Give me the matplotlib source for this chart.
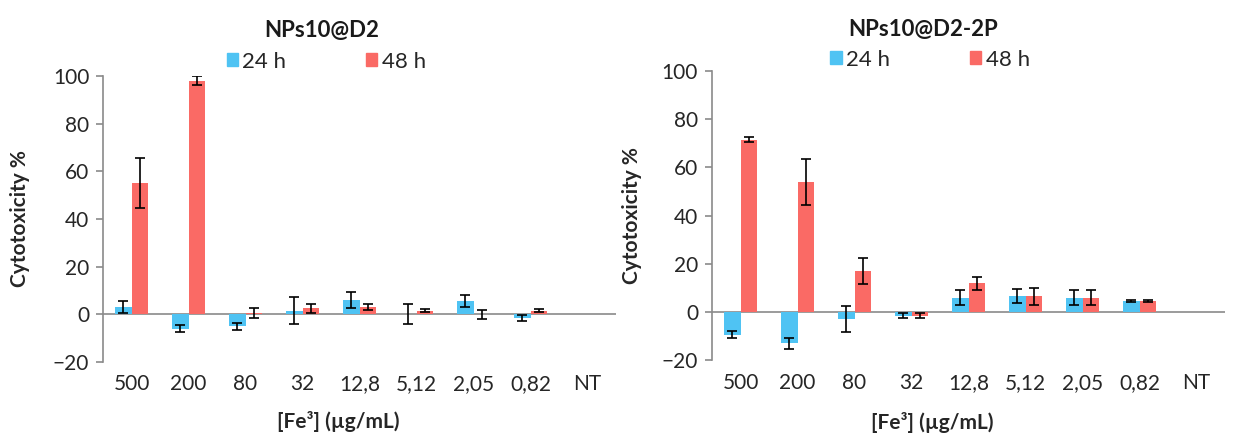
### Imports ###

import numpy as np
from matplotlib import pyplot as plt
from matplotlib.patches import Patch

### Data ###

categories = ['500', '200', '80', '32', '12,8', '5,12', '2,05', '0,82', 'NT']
series_names = ['24 h', '48 h']

# NPs10@D2 (left panel)
d2_24h = [3, -6, -5, 1.5, 6, 0, 5.5, -1.5, np.nan]
d2_24h_err = [2.7, 1.5, 1.5, 5.6, 3.4, 4.3, 2.4, 1.3, np.nan]
d2_48h = [55, 98, 0.5, 2.5, 3, 1.5, 0, 1.5, np.nan]
d2_48h_err = [10.5, 2, 2, 1.8, 1.3, 0.7, 1.9, 0.5, np.nan]

# NPs10@D2-2P (right panel)
d2p_24h = [-9.5, -13, -3, -1.5, 6, 6.5, 6, 4.7, np.nan]
d2p_24h_err = [1.5, 2.2, 5.5, 1, 3, 2.9, 3.1, 0.4, np.nan]
d2p_48h = [71.5, 54, 17, -1.5, 12, 6.5, 6, 4.7, np.nan]
d2p_48h_err = [1, 9.5, 5.6, 1, 2.7, 3.6, 3.1, 0.4, np.nan]

### Style ###

plt.rcParams['font.family'] = ['Lato', 'DejaVu Sans']
blue = '#4FC3F3'
red = '#FA6A65'
axis_grey = '#8A8A8A'
text_grey = '#262626'

### Functions ###

def draw_panel(ax, title, v24, e24, v48, e48, legend_xy, title_xy, ylab_x, xlab_xy):

    x = np.arange(len(categories))
    w = 1 / 3.5  # Excel gap width 150%

    ax.bar(x - w / 2, v24, w, color=blue, yerr=e24, capsize=3.5,
           error_kw=dict(ecolor='black', elinewidth=1.2, capthick=1.2))
    ax.bar(x + w / 2, v48, w, color=red, yerr=e48, capsize=3.5,
           error_kw=dict(ecolor='black', elinewidth=1.2, capthick=1.2))

    # Zero line like the Excel category axis
    ax.axhline(0, color=axis_grey, lw=1.2, zorder=0.5)

    ax.set_xlim(-0.5, len(categories) - 0.5)
    ax.set_ylim(-20, 100)
    ax.set_yticks(range(-20, 101, 20))
    ax.set_xticks(x)
    ax.set_xticklabels(categories)

    for side in ['top', 'right', 'bottom']:
        ax.spines[side].set_visible(False)
    ax.spines['left'].set_color(axis_grey)
    ax.spines['left'].set_linewidth(1.2)

    ax.tick_params(axis='y', direction='out', length=5, width=1.2, color=axis_grey,
                   labelsize=15, labelcolor=text_grey, pad=5)
    ax.tick_params(axis='x', length=0, labelsize=15, labelcolor=text_grey, pad=9)

    ax.set_ylabel('Cytotoxicity %', fontsize=15, fontweight='bold', color=text_grey)
    ax.yaxis.set_label_coords(ylab_x, 0.5)
    ax.set_xlabel('[Fe³] (µg/mL)', fontsize=15, fontweight='bold', color=text_grey,
                  va='center')
    ax.xaxis.set_label_coords(*xlab_xy)

    ax.text(title_xy[0], title_xy[1], title, transform=ax.transAxes,
            ha='center', va='center', fontsize=16, fontweight='bold', color='#1a1a1a')

    handles = [Patch(color=blue), Patch(color=red)]
    ax.legend(handles, series_names, loc='center', bbox_to_anchor=legend_xy,
              ncol=2, frameon=False, fontsize=16, handlelength=0.5, handleheight=0.5,
              handletextpad=0.2, columnspacing=3.6, borderaxespad=0,
              labelcolor=text_grey)

### Figure ###

fig = plt.figure(figsize=(12.37, 4.36), dpi=100)
ax_left = fig.add_axes([0.0833, 0.170, 0.4147, 0.656])
ax_right = fig.add_axes([0.5756, 0.174, 0.4147, 0.663])

draw_panel(ax_left, 'NPs10@D2', d2_24h, d2_24h_err, d2_48h, d2_48h_err,
           legend_xy=(0.435, 1.05), title_xy=(0.427, 1.16),
           ylab_x=-0.142, xlab_xy=(0.458, -0.21))
draw_panel(ax_right, 'NPs10@D2-2P', d2p_24h, d2p_24h_err, d2p_48h, d2p_48h_err,
           legend_xy=(0.425, 1.04), title_xy=(0.411, 1.145),
           ylab_x=-0.136, xlab_xy=(0.429, -0.215))

fig.savefig('out.png', dpi=100)
